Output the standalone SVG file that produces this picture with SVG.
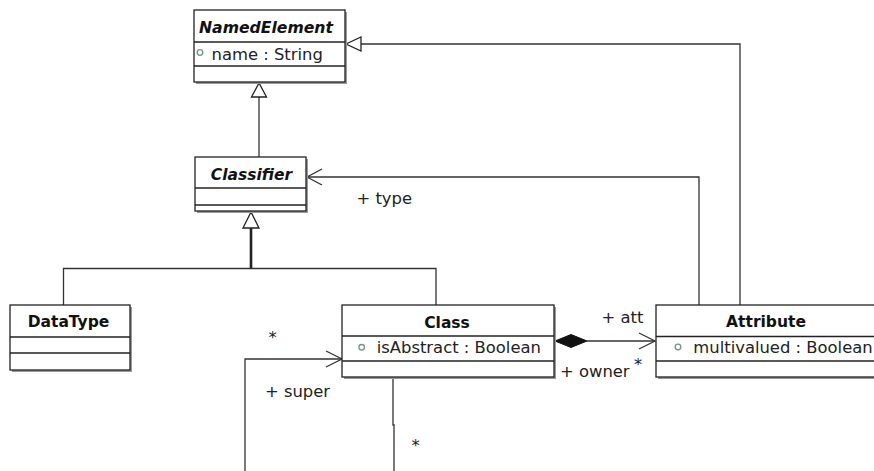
<svg xmlns="http://www.w3.org/2000/svg" width="874" height="471" viewBox="0 0 874 471">
<style>
.bg{fill:#fff}
.sh{fill:#9a9a9a}
.box{fill:#fff;stroke:#222;stroke-width:1.3}
.sep{stroke:#222;stroke-width:1.3;fill:none}
.ln{fill:none;stroke:#333;stroke-width:1.3}
.thick{fill:none;stroke:#222;stroke-width:2.6}
.tri{fill:#fff;stroke:#222;stroke-width:1.3}
.dia{fill:#111;stroke:#111;stroke-width:1}
.t{font-family:"DejaVu Sans",sans-serif;font-size:16.4px;fill:#222}
.b{font-family:"DejaVu Sans",sans-serif;font-weight:bold;font-size:15.5px;fill:#111}
.i{font-style:italic}
.vis{fill:#fff;stroke:#6f958a;stroke-width:1.3}
</style>
<rect class="bg" x="0" y="0" width="874" height="471"/>

<g id="connectors">
  <!-- Classifier -> NamedElement generalization -->
  <line class="ln" x1="259" y1="97" x2="259" y2="157"/>
  <polygon class="tri" points="259,83 251.5,97 266.5,97"/>
  <!-- DataType/Class -> Classifier generalization -->
  <polyline class="ln" points="63.5,305 63.5,268.5 436,268.5 436,305"/>
  <line class="thick" x1="251" y1="228" x2="251" y2="268.5"/>
  <polygon class="tri" points="251,212 243,228 259,228"/>
  <!-- Attribute -> NamedElement generalization -->
  <polyline class="ln" points="740,305 740,44 361,44"/>
  <polygon class="tri" points="346,44 361,37 361,51"/>
  <!-- Attribute type -> Classifier -->
  <polyline class="ln" points="699,305 699,177 307,177"/>
  <polyline class="ln" points="322,169 307,177 322,185"/>
  <!-- Composition Class -> Attribute -->
  <line class="ln" x1="587" y1="341" x2="655" y2="341"/>
  <polygon class="dia" points="555,341 571,334.5 587,341 571,347.5"/>
  <polyline class="ln" points="639,333 655,341 639,349"/>
  <!-- Self association super -->
  <path class="ln" d="M393,377 V425 H394 V472"/>
  <polyline class="ln" points="245,472 245,359 342,359"/>
  <polyline class="ln" points="326,351 342,359 326,367"/>
  <!-- labels -->
  <text class="t" x="356.5" y="204">+ type</text>
  <text class="t" x="601.5" y="323">+ att</text>
  <text class="t" x="560" y="377">+ owner</text>
  <text class="t" x="634" y="370">*</text>
  <text class="t" x="268.5" y="343">*</text>
  <text class="t" x="265" y="396.5">+ super</text>
  <text class="t" x="411.5" y="451">*</text>
</g>

<g id="NamedElement">
  <rect class="sh" x="196" y="12" width="151" height="72"/>
  <rect class="box" x="194" y="10" width="151" height="72"/>
  <line class="sep" x1="194" y1="42" x2="345" y2="42"/>
  <line class="sep" x1="194" y1="66" x2="345" y2="66"/>
  <text class="b i" x="266" y="32.5" text-anchor="middle" textLength="134" lengthAdjust="spacingAndGlyphs">NamedElement</text>
  <circle class="vis" cx="200" cy="52.5" r="2.8"/>
  <text class="t" x="211.5" y="59.5">name : String</text>
</g>

<g id="Classifier">
  <rect class="sh" x="197" y="159" width="111" height="54"/>
  <rect class="box" x="195" y="157" width="111" height="54"/>
  <line class="sep" x1="195" y1="188" x2="306" y2="188"/>
  <line class="sep" x1="195" y1="205" x2="306" y2="205"/>
  <text class="b i" x="251.5" y="180" text-anchor="middle">Classifier</text>
</g>

<g id="DataType">
  <rect class="sh" x="12" y="307" width="120" height="65"/>
  <rect class="box" x="10" y="305" width="120" height="65"/>
  <line class="sep" x1="10" y1="337" x2="130" y2="337"/>
  <line class="sep" x1="10" y1="353" x2="130" y2="353"/>
  <text class="b" x="68.5" y="327" text-anchor="middle">DataType</text>
</g>

<g id="Class">
  <rect class="sh" x="344" y="307" width="212" height="72"/>
  <rect class="box" x="342" y="305" width="212" height="72"/>
  <line class="sep" x1="342" y1="336" x2="554" y2="336"/>
  <line class="sep" x1="342" y1="361" x2="554" y2="361"/>
  <text class="b" x="447" y="327.5" text-anchor="middle">Class</text>
  <circle class="vis" cx="361.7" cy="347.3" r="2.8"/>
  <text class="t" x="376.7" y="353">isAbstract : Boolean</text>
</g>

<g id="Attribute">
  <rect class="sh" x="658" y="307" width="222" height="72"/>
  <rect class="box" x="656" y="305" width="222" height="72"/>
  <line class="sep" x1="656" y1="336.5" x2="878" y2="336.5"/>
  <line class="sep" x1="656" y1="361" x2="878" y2="361"/>
  <text class="b" x="766" y="327" text-anchor="middle">Attribute</text>
  <circle class="vis" cx="678" cy="347" r="2.8"/>
  <text class="t" x="693.3" y="353">multivalued : Boolean</text>
</g>
</svg>
